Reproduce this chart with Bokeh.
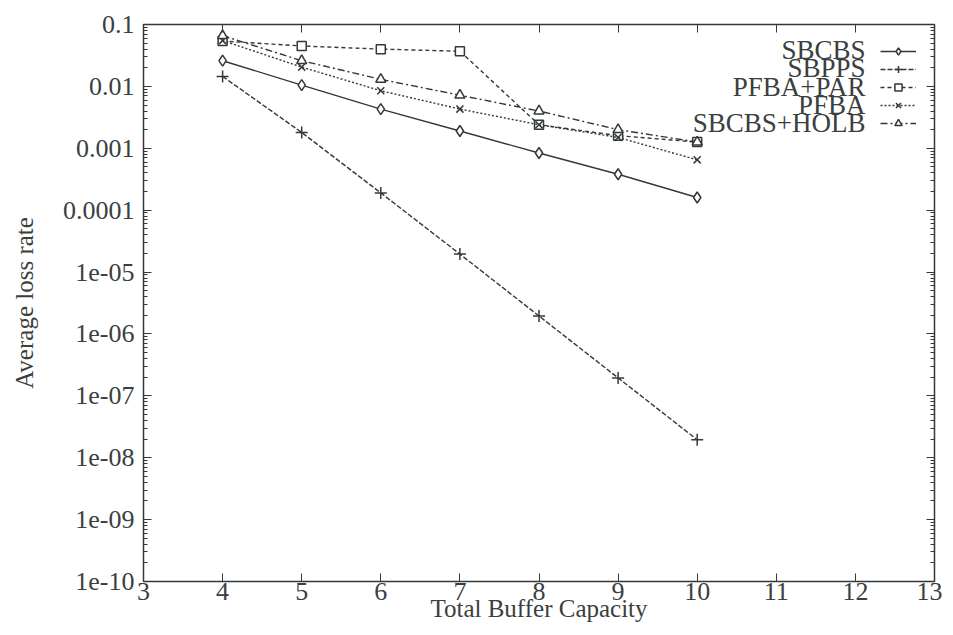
from bokeh.plotting import figure
from bokeh.models import (LogAxis, LinearAxis, FixedTicker, Label, Legend, LegendItem)
from bokeh.embed import file_html
from bokeh.resources import INLINE

# ---------------- data ----------------
capacity = [4, 5, 6, 7, 8, 9, 10]
sbcbs = [0.026, 0.0105, 0.0043, 0.0019, 0.00084, 0.00038, 0.00016]
sbpps = [0.0145, 0.0018, 1.9e-4, 1.95e-5, 1.95e-6, 1.95e-7, 1.95e-8]
pfba_par = [0.054, 0.045, 0.040, 0.037, 0.0024, 0.0016, 0.00126]
pfba = [0.055, 0.0205, 0.0085, 0.0043, 0.0024, 0.0015, 0.00065]
sbcbs_holb = [0.066, 0.026, 0.013, 0.0072, 0.0040, 0.0020, 0.00126]

series_names = ["SBCBS", "SBPPS", "PFBA+PAR", "PFBA", "SBCBS+HOLB"]

x_ticks = [3, 4, 5, 6, 7, 8, 9, 10, 11, 12, 13]
y_ticks = [1e-10, 1e-9, 1e-8, 1e-7, 1e-6, 1e-5, 1e-4, 1e-3, 1e-2, 1e-1]
y_tick_labels = ["1e-10", "1e-09", "1e-08", "1e-07", "1e-06", "1e-05",
                 "0.0001", "0.001", "0.01", "0.1"]

FONT = "Liberation Serif"
INK = "#333838"
TXT = "#3a4040"

p = figure(frame_width=791, frame_height=557, y_axis_type="log",
           x_range=(3, 13), y_range=(1e-10, 0.1),
           output_backend="svg", toolbar_location=None,
           min_border_left=143, min_border_right=8, min_border_top=24,
           min_border_bottom=40, background_fill_color="white",
           border_fill_color="white")
p.grid.visible = False
p.outline_line_color = INK
p.outline_line_width = 1.5

minor = [k * d for d in y_ticks[:-1] for k in range(2, 10)]

# bottom x axis
xa = p.xaxis[0]
xa.ticker = FixedTicker(ticks=x_ticks)
xa.axis_label = "Total Buffer Capacity"
xa.axis_label_text_font = FONT
xa.axis_label_text_font_style = "normal"
xa.axis_label_text_font_size = "25px"
xa.axis_label_text_color = TXT
xa.axis_label_standoff = -8
xa.major_label_text_font = FONT
xa.major_label_text_font_size = "26px"
xa.major_label_text_color = TXT
xa.major_label_standoff = 1
xa.major_tick_in = 8
xa.major_tick_out = 0
xa.minor_tick_line_color = None
xa.axis_line_color = INK
xa.major_tick_line_color = INK

# left y axis
ya = p.yaxis[0]
ya.ticker = FixedTicker(ticks=y_ticks, minor_ticks=minor)
ya.major_label_overrides = {t: l for t, l in zip(y_ticks, y_tick_labels)}
ya.axis_label = "Average loss rate"
ya.axis_label_text_font = FONT
ya.axis_label_text_font_style = "normal"
ya.axis_label_text_font_size = "25px"
ya.axis_label_text_color = TXT
ya.axis_label_standoff = 22
ya.major_label_text_font = FONT
ya.major_label_text_font_size = "26px"
ya.major_label_text_color = TXT
ya.major_label_standoff = 9
ya.major_tick_in = 8
ya.major_tick_out = 0
ya.minor_tick_in = 4
ya.minor_tick_out = 0
ya.axis_line_color = INK
ya.major_tick_line_color = INK
ya.minor_tick_line_color = INK

# mirrored axes (gnuplot style), ticks only
top = LinearAxis(ticker=FixedTicker(ticks=x_ticks), major_label_text_font_size="6px",
                 major_label_text_color=None, major_label_standoff=0,
                 major_tick_in=8, major_tick_out=0,
                 minor_tick_line_color=None, axis_line_color=INK,
                 major_tick_line_color=INK)
p.add_layout(top, "above")
right = LogAxis(ticker=FixedTicker(ticks=y_ticks, minor_ticks=minor),
                major_label_text_font_size="6px", major_label_text_color=None,
                major_label_standoff=0,
                major_tick_in=8, major_tick_out=0, minor_tick_in=4, minor_tick_out=0,
                axis_line_color=INK, major_tick_line_color=INK,
                minor_tick_line_color=INK)
p.add_layout(right, "right")

# ---------------- series ----------------
styles = [
    (sbcbs, "solid", "diamond", 11),
    (sbpps, "5 2", "cross", 12),
    (pfba_par, "4 3", "square", 9),
    (pfba, "2 2", "x", 10),
    (sbcbs_holb, "7 3 2 3", "triangle", 10),
]
items = []
for (vals, dash, marker, size), name in zip(styles, series_names):
    ln = p.line(capacity, vals, line_color=INK, line_width=1.4, line_dash=dash)
    mk = p.scatter(capacity, vals, marker=marker, size=size, fill_color="white",
                   fill_alpha=0.0 if marker in ("cross", "x") else 1.0,
                   line_color=INK, line_width=1.5)
    items.append(LegendItem(label=" ", renderers=[ln, mk]))

# legend keys drawn by Bokeh's legend; texts as right-aligned labels to their left
leg = Legend(items=items, location=(737, 449), orientation="vertical",
             glyph_width=36, glyph_height=18, label_width=2, label_height=18,
             label_standoff=0, spacing=0, padding=0, margin=0,
             label_text_font_size="10px", label_text_color=None,
             border_line_color=None, background_fill_alpha=0.0)
p.add_layout(leg)

row_y = [532, 514, 495, 477, 459]
for name, yy in zip(series_names, row_y):
    p.add_layout(Label(x=722, y=yy, x_units="screen", y_units="screen", text=name,
                       text_font=FONT, text_font_size="27px", text_color=TXT,
                       text_align="right", text_baseline="middle"))

open("out.html", "w").write(file_html(p, INLINE))
